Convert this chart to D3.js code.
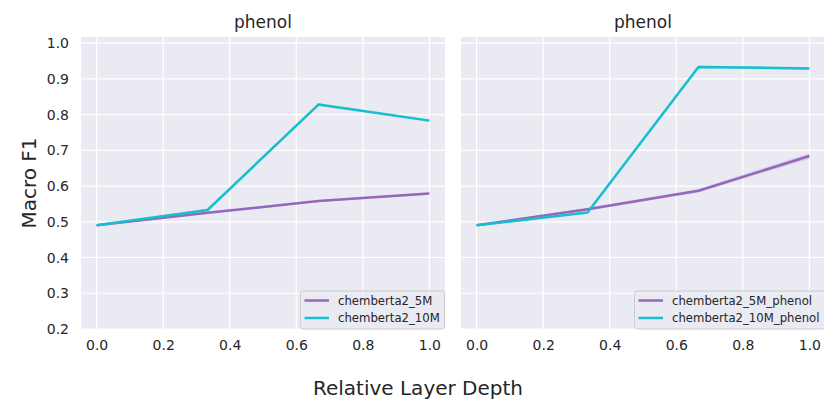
<!DOCTYPE html>
<html>
<head>
<meta charset="utf-8">
<script src="https://cdn.jsdelivr.net/npm/d3@7"></script>
<style>
  body { margin: 0; background: #fff; }
  svg { display: block; font-family: "DejaVu Sans", sans-serif; }
</style>
</head>
<body>
<svg id="chart" width="824" height="401"></svg>
<script>
// Relative layer depth positions
const depths = [0, 1/3, 2/3, 1];

// Left panel series
const left5M = [0.490, 0.525, 0.558, 0.579];
const left10M = [0.490, 0.533, 0.828, 0.783];
// Right panel series
const right5M = [0.490, 0.535, 0.587, 0.684];
const right10M = [0.490, 0.526, 0.933, 0.929];
// Half-width of the confidence band at each depth
const band5L = [0.002, 0.003, 0.003, 0.003];
const band10L = [0.002, 0.003, 0.004, 0.004];
const band5R = [0.002, 0.004, 0.005, 0.008];
const band10R = [0.002, 0.003, 0.004, 0.004];

const yTicks = [0.2, 0.3, 0.4, 0.5, 0.6, 0.7, 0.8, 0.9, 1.0];
const xTicks = [0.0, 0.2, 0.4, 0.6, 0.8, 1.0];

const panels = [
  { title: "phenol", x0: 81, x1: 445,
    series: [
      { name: "chemberta2_5M", values: left5M, band: band5L, color: "#9467bd" },
      { name: "chemberta2_10M", values: left10M, band: band10L, color: "#17becf" }
    ], legendX: 300, legendW: 145 },
  { title: "phenol", x0: 461, x1: 825,
    series: [
      { name: "chemberta2_5M_phenol", values: right5M, band: band5R, color: "#9467bd" },
      { name: "chemberta2_10M_phenol", values: right10M, band: band10R, color: "#17becf" }
    ], legendX: 634, legendW: 192 }
];

const svg = d3.select("#chart");
const plotTop = 37, plotBottom = 329;
const y = d3.scaleLinear().domain([0.2, 1.017]).range([plotBottom, plotTop]);

panels.forEach((p, pi) => {
  const x = d3.scaleLinear().domain([-0.047, 1.047]).range([p.x0, p.x1]);
  const g = svg.append("g");

  g.append("rect").attr("x", p.x0).attr("y", plotTop)
    .attr("width", p.x1 - p.x0).attr("height", plotBottom - plotTop)
    .attr("fill", "#eaeaf2");

  // grid lines
  g.selectAll("line.gx").data(xTicks).join("line").attr("class", "gx")
    .attr("x1", d => x(d)).attr("x2", d => x(d))
    .attr("y1", plotTop).attr("y2", plotBottom)
    .attr("stroke", "#fff").attr("stroke-width", 1.2);
  g.selectAll("line.gy").data(yTicks).join("line").attr("class", "gy")
    .attr("x1", p.x0).attr("x2", p.x1)
    .attr("y1", d => y(d)).attr("y2", d => y(d))
    .attr("stroke", "#fff").attr("stroke-width", 1.2);

  // x axis
  const xa = d3.axisBottom(x).tickValues(xTicks).tickFormat(d3.format(".1f")).tickSize(0).tickPadding(11);
  const xg = g.append("g").attr("transform", `translate(0,${plotBottom})`).call(xa);
  xg.select(".domain").remove();
  xg.selectAll("text").attr("font-size", 14).attr("fill", "#262626")
    .attr("font-family", "DejaVu Sans");

  // y axis only on first panel
  if (pi === 0) {
    const ya = d3.axisLeft(y).tickValues(yTicks).tickFormat(d3.format(".1f")).tickSize(0).tickPadding(12);
    const yg = g.append("g").attr("transform", `translate(${p.x0},0)`).call(ya);
    yg.select(".domain").remove();
    yg.selectAll("text").attr("font-size", 14).attr("fill", "#262626")
      .attr("font-family", "DejaVu Sans");
  }

  // series bands and lines
  p.series.forEach(s => {
    const pts = depths.map((d, i) => ({ x: d, y: s.values[i], b: s.band[i] }));
    g.append("path").datum(pts)
      .attr("d", d3.area().x(d => x(d.x)).y0(d => y(d.y - d.b)).y1(d => y(d.y + d.b)))
      .attr("fill", s.color).attr("fill-opacity", 0.2);
    g.append("path").datum(pts)
      .attr("d", d3.line().x(d => x(d.x)).y(d => y(d.y)))
      .attr("fill", "none").attr("stroke", s.color).attr("stroke-width", 2.5)
      .attr("stroke-linejoin", "round");
  });

  // title
  g.append("text").attr("x", (p.x0 + p.x1) / 2).attr("y", 28)
    .attr("text-anchor", "middle").attr("font-size", 17).attr("fill", "#262626")
    .text(p.title);

  // legend
  const lg = g.append("g");
  lg.append("rect").attr("x", p.legendX + 0.5).attr("y", 291)
    .attr("width", p.legendW - 1).attr("height", 38).attr("rx", 3)
    .attr("fill", "#eaeaf2").attr("fill-opacity", 0.8)
    .attr("stroke", "#cccccc").attr("stroke-width", 1);
  p.series.forEach((s, i) => {
    const yy = 300.5 + i * 17.5;
    lg.append("line").attr("x1", p.legendX + 4.5).attr("x2", p.legendX + 29)
      .attr("y1", yy).attr("y2", yy)
      .attr("stroke", s.color).attr("stroke-width", 2.5);
    lg.append("text").attr("x", p.legendX + 38).attr("y", yy + 4)
      .attr("font-size", 11.7).attr("fill", "#262626").text(s.name);
  });
});

// axis titles
svg.append("text").attr("x", 418).attr("y", 395)
  .attr("text-anchor", "middle").attr("font-size", 20).attr("fill", "#262626")
  .text("Relative Layer Depth");
svg.append("text")
  .attr("transform", `translate(36,${(plotTop + plotBottom) / 2}) rotate(-90)`)
  .attr("text-anchor", "middle").attr("font-size", 20).attr("fill", "#262626")
  .text("Macro F1");
</script>
</body>
</html>
